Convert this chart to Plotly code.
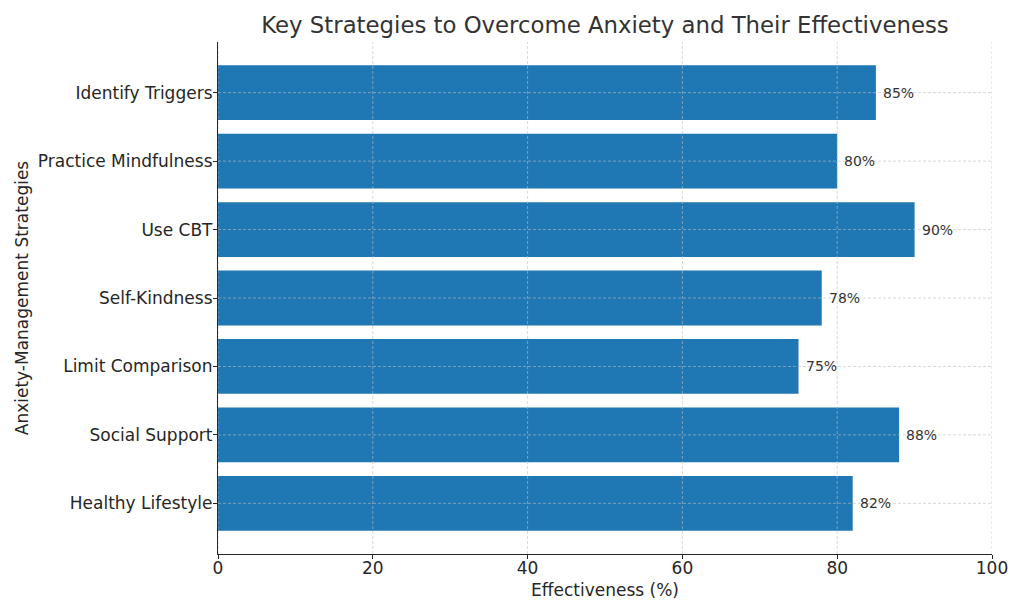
import plotly.graph_objects as go

strategies = ["Healthy Lifestyle", "Social Support", "Limit Comparison", "Self-Kindness",
              "Use CBT", "Practice Mindfulness", "Identify Triggers"]
effectiveness = [82, 88, 75, 78, 90, 80, 85]
x_ticks = [0, 20, 40, 60, 80, 100]

FONT = "DejaVu Sans"
GRID = dict(color="rgba(190,190,190,0.75)", width=0.8, dash="3px,2px")
fig = go.Figure()
fig.add_trace(go.Bar(
    x=effectiveness, y=list(range(len(strategies))), orientation="h",
    marker=dict(color="#1f77b4", line=dict(width=0)), width=0.8,
    hoverinfo="skip",
))

for i, v in enumerate(effectiveness):
    fig.add_annotation(x=v, y=i, text=f"{v}%", showarrow=False, xanchor="left",
                       xshift=5, font=dict(family=FONT, size=14, color="#333333"))

for t in x_ticks:
    fig.add_shape(type="line", xref="x", yref="paper", x0=t, x1=t, y0=0, y1=1,
                  line=GRID, layer="above")
for i in range(len(strategies)):
    fig.add_shape(type="line", xref="paper", yref="y", x0=0, x1=1, y0=i, y1=i,
                  line=GRID, layer="above")

fig.update_layout(
    width=1024, height=614,
    margin=dict(l=218, r=32, t=42, b=60),
    paper_bgcolor="white", plot_bgcolor="white",
    showlegend=False,
    title=dict(text="Key Strategies to Overcome Anxiety and Their Effectiveness",
               x=0.5, xref="paper", xanchor="center", y=1 - 25/614, yanchor="middle",
               font=dict(family=FONT, size=22.8, color="#333333")),
    font=dict(family=FONT, color="#262626"),
)
fig.update_xaxes(range=[0, 100], tickvals=x_ticks, ticks="outside", ticklen=4,
                 ticklabelstandoff=-6,
                 tickcolor="#262626", showgrid=False, showline=True, linecolor="#262626",
                 linewidth=1.2, zeroline=False, tickfont=dict(size=17, color="#262626"),
                 title=dict(text="Effectiveness (%)", font=dict(size=17, color="#262626"), standoff=7))
fig.update_yaxes(range=[-0.74, 6.74], tickvals=list(range(len(strategies))),
                 ticktext=strategies, ticks="outside", ticklen=4, tickcolor="#262626",
                 ticklabelstandoff=-3,
                 showgrid=False, showline=True, linecolor="#262626", linewidth=1.2,
                 zeroline=False, tickfont=dict(size=17, color="#262626"),
                 title=dict(text="Anxiety-Management Strategies",
                            font=dict(size=17, color="#262626"), standoff=4))

fig.write_html("out.html", config={"displayModeBar": False},
               post_script="document.body.style.margin='0';document.body.style.overflow='hidden';")
